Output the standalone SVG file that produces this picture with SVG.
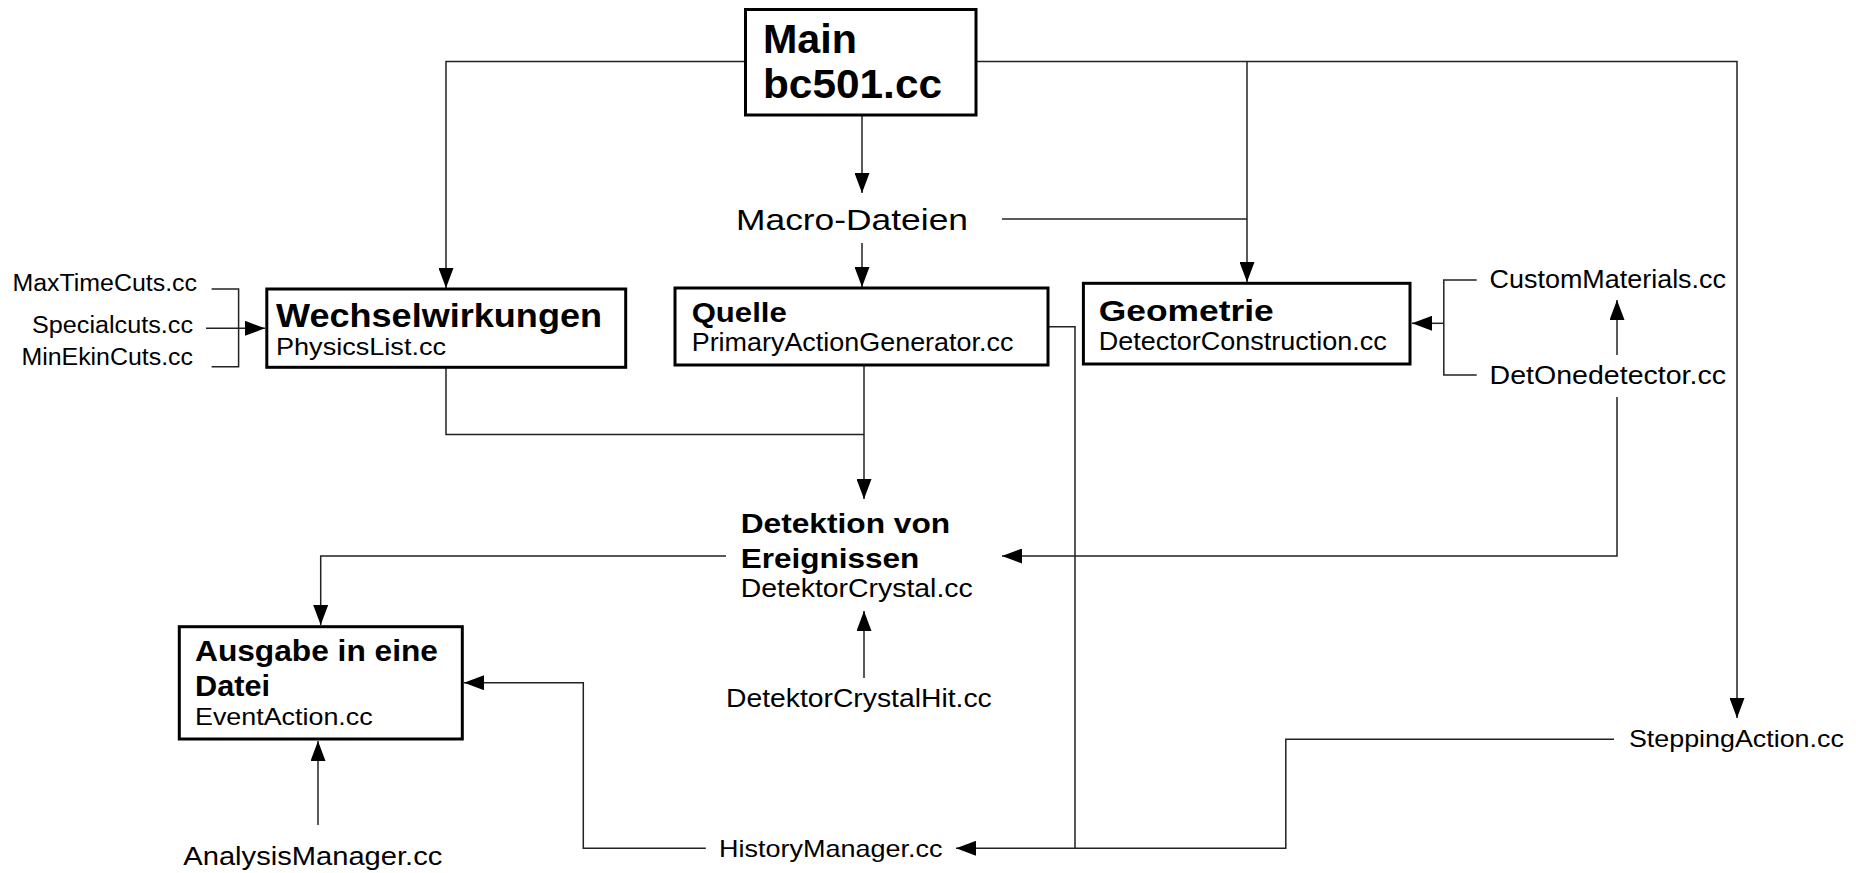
<svg xmlns="http://www.w3.org/2000/svg" width="1856" height="873" viewBox="0 0 1856 873">
<style>
.box{fill:#fff;stroke:#000;stroke-width:3}
.b{font-family:"Liberation Sans",Arial,sans-serif;font-weight:bold;fill:#000}
.r{font-family:"Liberation Sans",Arial,sans-serif;fill:#000}
.c{fill:none;stroke:#222;stroke-width:1.5}
</style>
<defs>
<marker id="ah" markerUnits="userSpaceOnUse" markerWidth="20" markerHeight="15" refX="20" refY="7.5" orient="auto">
<path d="M0,0 L20,7.5 L0,15 z" fill="#000"/>
</marker>
</defs>
<rect width="1856" height="873" fill="#fff"/>
<g id="connectors">
<path class="c" d="M745.5,61.5 H446 V288" marker-end="url(#ah)"/>
<path class="c" d="M976,61.5 H1737 V718" marker-end="url(#ah)"/>
<path class="c" d="M1247,61.5 V282" marker-end="url(#ah)"/>
<path class="c" d="M862,115 V193" marker-end="url(#ah)"/>
<path class="c" d="M862,243 V287" marker-end="url(#ah)"/>
<path class="c" d="M1002,219 H1247"/>
<path class="c" d="M211.6,289 H238.6 V366.7 H211.6"/>
<path class="c" d="M206,328.3 H265" marker-end="url(#ah)"/>
<path class="c" d="M1476.7,280 H1443.8 V375 H1476.7"/>
<path class="c" d="M1443.8,323.3 H1412" marker-end="url(#ah)"/>
<path class="c" d="M1617,355 V300" marker-end="url(#ah)"/>
<path class="c" d="M1617,397 V556 H1002" marker-end="url(#ah)"/>
<path class="c" d="M446,368 V434.4 H864"/>
<path class="c" d="M864,366 V499" marker-end="url(#ah)"/>
<path class="c" d="M726,556 H320.7 V625" marker-end="url(#ah)"/>
<path class="c" d="M864,678 V611" marker-end="url(#ah)"/>
<path class="c" d="M318,825 V741" marker-end="url(#ah)"/>
<path class="c" d="M1049,326.7 H1075 V848.3"/>
<path class="c" d="M1614,739.3 H1285.8 V848.3 H956" marker-end="url(#ah)"/>
<path class="c" d="M705.8,848.3 H583.3 V682.7 H464" marker-end="url(#ah)"/>
</g>
<g id="main">
<rect class="box" x="745.5" y="9.5" width="230.5" height="105.5"/>
<text class="b" x="763" y="53" font-size="40" textLength="94" lengthAdjust="spacingAndGlyphs">Main</text>
<text class="b" x="763" y="98" font-size="40" textLength="179" lengthAdjust="spacingAndGlyphs">bc501.cc</text>
</g>
<g id="macro">
<text class="r" x="736" y="230" font-size="29" textLength="232" lengthAdjust="spacingAndGlyphs">Macro-Dateien</text>
</g>
<g id="wechselwirkungen">
<rect class="box" x="266.8" y="289" width="358.9" height="78.3"/>
<text class="b" x="276" y="326.7" font-size="33" textLength="326" lengthAdjust="spacingAndGlyphs">Wechselwirkungen</text>
<text class="r" x="276" y="355" font-size="24.5" textLength="170" lengthAdjust="spacingAndGlyphs">PhysicsList.cc</text>
</g>
<g id="quelle">
<rect class="box" x="675" y="288" width="373" height="77"/>
<text class="b" x="691.7" y="321.7" font-size="27" textLength="95" lengthAdjust="spacingAndGlyphs">Quelle</text>
<text class="r" x="691.7" y="350.7" font-size="26.5" textLength="321.7" lengthAdjust="spacingAndGlyphs">PrimaryActionGenerator.cc</text>
</g>
<g id="geometrie">
<rect class="box" x="1083.4" y="283.3" width="326.6" height="80.7"/>
<text class="b" x="1098.8" y="321" font-size="30" textLength="175" lengthAdjust="spacingAndGlyphs">Geometrie</text>
<text class="r" x="1098.8" y="350" font-size="25" textLength="288" lengthAdjust="spacingAndGlyphs">DetectorConstruction.cc</text>
</g>
<g id="maxtimecuts"><text class="r" x="12.4" y="290.7" font-size="23" textLength="184.6" lengthAdjust="spacingAndGlyphs">MaxTimeCuts.cc</text></g>
<g id="specialcuts"><text class="r" x="32" y="333.3" font-size="23" textLength="161" lengthAdjust="spacingAndGlyphs">Specialcuts.cc</text></g>
<g id="minekincuts"><text class="r" x="21.4" y="365" font-size="23" textLength="171.6" lengthAdjust="spacingAndGlyphs">MinEkinCuts.cc</text></g>
<g id="custommaterials"><text class="r" x="1489.6" y="288.3" font-size="25" textLength="236.4" lengthAdjust="spacingAndGlyphs">CustomMaterials.cc</text></g>
<g id="detonedetector"><text class="r" x="1489.6" y="384" font-size="25" textLength="236.4" lengthAdjust="spacingAndGlyphs">DetOnedetector.cc</text></g>
<g id="detektion">
<text class="b" x="740.7" y="533.3" font-size="27.5" textLength="209.5" lengthAdjust="spacingAndGlyphs">Detektion von</text>
<text class="b" x="740.7" y="568.3" font-size="27.5" textLength="178.7" lengthAdjust="spacingAndGlyphs">Ereignissen</text>
<text class="r" x="740.7" y="597.3" font-size="25" textLength="232" lengthAdjust="spacingAndGlyphs">DetektorCrystal.cc</text>
</g>
<g id="detektorcrystalhit"><text class="r" x="726" y="706.7" font-size="25" textLength="265.7" lengthAdjust="spacingAndGlyphs">DetektorCrystalHit.cc</text></g>
<g id="ausgabe">
<rect class="box" x="179.3" y="626.7" width="283" height="112.3"/>
<text class="b" x="195" y="661" font-size="30" textLength="243" lengthAdjust="spacingAndGlyphs">Ausgabe in eine</text>
<text class="b" x="195" y="695.5" font-size="30" textLength="75" lengthAdjust="spacingAndGlyphs">Datei</text>
<text class="r" x="195" y="725" font-size="24" textLength="177.7" lengthAdjust="spacingAndGlyphs">EventAction.cc</text>
</g>
<g id="analysismanager"><text class="r" x="183.3" y="865" font-size="25" textLength="259" lengthAdjust="spacingAndGlyphs">AnalysisManager.cc</text></g>
<g id="historymanager"><text class="r" x="719" y="856.7" font-size="24" textLength="223.4" lengthAdjust="spacingAndGlyphs">HistoryManager.cc</text></g>
<g id="steppingaction"><text class="r" x="1628.9" y="746.7" font-size="24" textLength="215" lengthAdjust="spacingAndGlyphs">SteppingAction.cc</text></g>
</svg>
